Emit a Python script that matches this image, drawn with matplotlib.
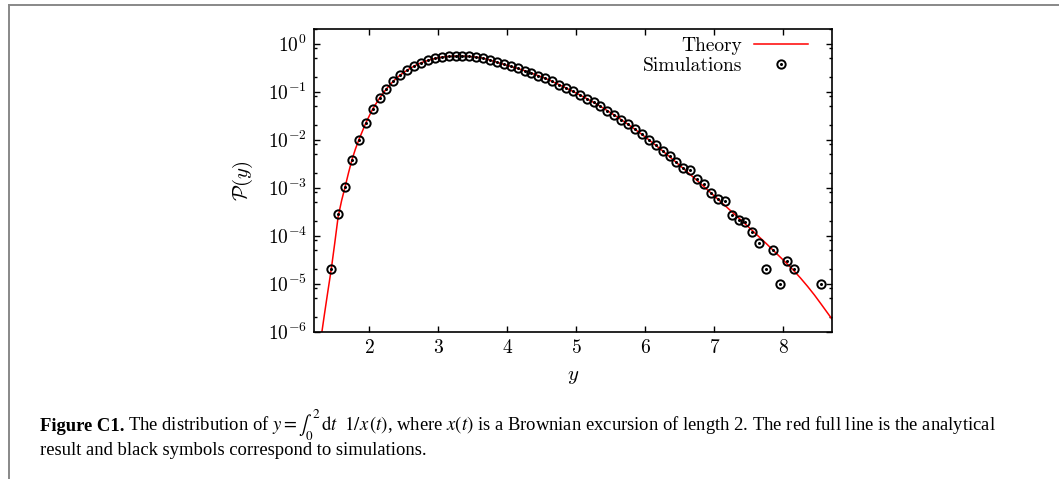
import matplotlib
matplotlib.use("Agg")
import matplotlib.pyplot as plt
import numpy as np
from matplotlib.lines import Line2D
from matplotlib.ticker import LogLocator, FuncFormatter, NullFormatter

plt.rcParams['font.family'] = 'serif'
plt.rcParams['font.serif'] = ['cmr10']
plt.rcParams['mathtext.fontset'] = 'cm'
plt.rcParams['axes.formatter.use_mathtext'] = True

# histogram of the simulated y values (bin centres and normalised counts)
sim_x = [1.45, 1.55, 1.65, 1.75, 1.85, 1.95, 2.05, 2.15, 2.25, 2.35,
         2.45, 2.55, 2.65, 2.75, 2.85, 2.95, 3.05, 3.15, 3.25, 3.35,
         3.45, 3.55, 3.65, 3.75, 3.85, 3.95, 4.05, 4.15, 4.25, 4.35,
         4.45, 4.55, 4.65, 4.75, 4.85, 4.95, 5.05, 5.15, 5.25, 5.35,
         5.45, 5.55, 5.65, 5.75, 5.85, 5.95, 6.05, 6.15, 6.25, 6.35,
         6.45, 6.55, 6.65, 6.75, 6.85, 6.95, 7.05, 7.15, 7.25, 7.35,
         7.45, 7.55, 7.65, 7.75, 7.85, 7.95, 8.05, 8.15, 8.55]
sim_p = [2.0e-5, 2.8e-4, 1.03e-3, 3.8e-3, 1.0e-2, 2.23e-2, 4.37e-2, 7.4e-2, 0.1155, 0.167,
         0.224, 0.282, 0.343, 0.402, 0.450, 0.494, 0.527, 0.545, 0.553, 0.553,
         0.545, 0.527, 0.501, 0.457, 0.412, 0.372, 0.337, 0.306, 0.275, 0.245,
         0.216, 0.191, 0.164, 0.141, 0.120, 0.1016, 0.0859, 0.0721, 0.0600, 0.0494,
         0.0404, 0.0327, 0.0263, 0.0209, 0.0165, 0.0129, 0.0100, 0.00767, 0.00571, 0.00450,
         0.00337, 0.00257, 0.00229, 0.00155, 0.00117, 7.9e-4, 5.8e-4, 5.2e-4, 2.74e-4, 2.09e-4,
         1.91e-4, 1.20e-4, 7.0e-5, 2.0e-5, 5.0e-5, 1.0e-5, 3.0e-5, 2.0e-5, 1.0e-5]

# analytical distribution P(y)
theory_x = [1.30, 1.35, 1.40, 1.45, 1.50, 1.55, 1.60, 1.65, 1.70, 1.75,
            1.80, 1.85, 1.95, 2.05, 2.15, 2.25, 2.35, 2.45, 2.55, 2.65,
            2.75, 2.85, 2.95, 3.05, 3.15, 3.25, 3.35, 3.45, 3.55, 3.65,
            3.75, 3.85, 3.95, 4.05, 4.15, 4.25, 4.35, 4.45, 4.55, 4.65,
            4.75, 4.85, 4.95, 5.05, 5.15, 5.25, 5.35, 5.45, 5.55, 5.65,
            5.75, 5.85, 5.95, 6.05, 6.15, 6.25, 6.35, 6.45, 6.55, 6.65,
            6.75, 6.85, 6.95, 7.05, 7.15, 7.25, 7.35, 7.45, 7.55, 7.65,
            7.75, 7.85, 7.95, 8.05, 8.15, 8.25, 8.35, 8.45, 8.55, 8.65,
            8.75]
theory_p = [7.1e-7, 2.24e-6, 6.8e-6, 2.0e-5, 6.9e-5, 2.5e-4, 5.4e-4, 1.035e-3, 2.04e-3, 3.83e-3,
            6.4e-3, 1.0e-2, 2.23e-2, 4.37e-2, 7.4e-2, 0.1155, 0.167, 0.224, 0.282, 0.343,
            0.402, 0.450, 0.494, 0.527, 0.545, 0.553, 0.553, 0.545, 0.527, 0.501,
            0.457, 0.412, 0.372, 0.337, 0.306, 0.275, 0.245, 0.216, 0.191, 0.164,
            0.141, 0.120, 0.1016, 0.0859, 0.0721, 0.0600, 0.0494, 0.0404, 0.0327, 0.0263,
            0.0209, 0.0165, 0.0129, 0.0100, 0.00767, 5.85e-3, 4.44e-3, 3.35e-3, 2.52e-3, 1.88e-3,
            1.41e-3, 1.05e-3, 7.8e-4, 5.77e-4, 4.30e-4, 3.18e-4, 2.36e-4, 1.74e-4, 1.28e-4, 9.4e-5,
            6.9e-5, 5.0e-5, 3.63e-5, 2.63e-5, 1.88e-5, 1.30e-5, 8.8e-6, 5.8e-6, 3.7e-6, 2.34e-6,
            1.48e-6]

x_ticks = [2, 3, 4, 5, 6, 7, 8]

fig = plt.figure(figsize=(10.59, 4.79), dpi=100)
ax = fig.add_axes([0.2965, 0.3075, 0.4889, 0.6313])

line, = ax.plot(theory_x, theory_p, color='red', lw=1.1, zorder=2)
circles, = ax.plot(sim_x, sim_p, ls='none', marker='o', ms=6.0, mfc='none',
                   mec='black', mew=1.4, zorder=3)
dots, = ax.plot(sim_x, sim_p, ls='none', marker='o', ms=1.2, color='black', zorder=3)

ax.set_yscale('log')
ax.set_xlim(1.2, 8.7)
ax.set_ylim(1e-6, 2)
ax.set_xticks(x_ticks)
ax.yaxis.set_major_locator(LogLocator(base=10, numticks=12))
ax.yaxis.set_minor_locator(LogLocator(base=10, subs=(2.0, 5.0, 8.0), numticks=12))
ax.yaxis.set_minor_formatter(NullFormatter())
ax.yaxis.set_major_formatter(FuncFormatter(lambda v, pos: r'$10^{%d}$' % round(np.log10(v))))

ax.tick_params(which='both', direction='in', top=True, right=True, width=1.0)
ax.tick_params(which='major', length=4.5, labelsize=14, pad=5)
ax.tick_params(which='minor', length=2.3)
for s in ax.spines.values():
    s.set_linewidth(1.2)

ax.set_xlabel(r'$y$', fontsize=15, labelpad=8)
ax.set_ylabel(r'$\mathcal{P}(y)$', fontsize=15, labelpad=9)

ax.legend([line, (circles, dots)], ['Theory', 'Simulations'],
          loc='upper right', bbox_to_anchor=(0.954, 0.975), frameon=False,
          markerfirst=False, borderpad=0, borderaxespad=0, handlelength=2.75,
          handletextpad=0.65, labelspacing=0.1, fontsize=14, numpoints=1)

# page frame
fig.add_artist(Line2D([9 / 1059, 1], [1 - 5 / 479] * 2, transform=fig.transFigure,
                      color='#888888', lw=1.4))
fig.add_artist(Line2D([9 / 1059] * 2, [1 - 5 / 479, 0], transform=fig.transFigure,
                      color='#888888', lw=1.4))

# caption
cap_kw = dict(fontfamily='Liberation Serif', fontsize=13.45, va='baseline',
              math_fontfamily='stix')
y1 = 1 - 431 / 479
y2 = 1 - 455 / 479
bold = fig.text(40 / 1059, y1, 'Figure C1.', fontweight='bold', **cap_kw)
fig.canvas.draw()
bb = bold.get_window_extent()
fig.text((bb.x1 + 4) / 1059, y1,
         r'The distribution of $y = \int_0^2\,\mathrm{d}t\ \ 1/x\,(t)$, where $x(t)$ '
         r'is a Brownian excursion of length 2. The red full line is the analytical',
         **cap_kw)
fig.text(40 / 1059, y2, 'result and black symbols correspond to simulations.', **cap_kw)

fig.savefig('out.png', dpi=100)
